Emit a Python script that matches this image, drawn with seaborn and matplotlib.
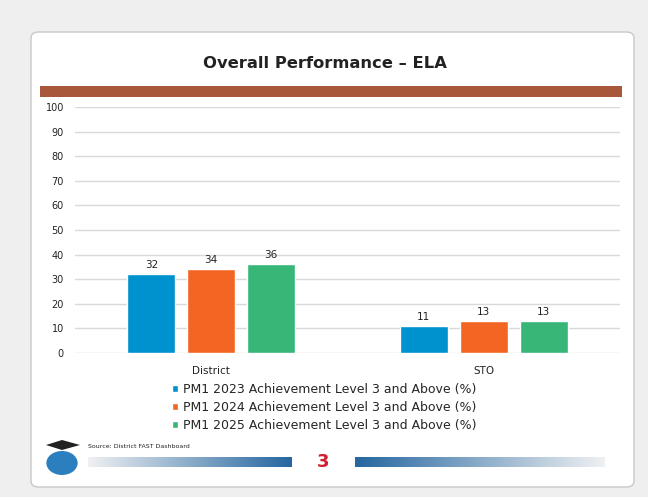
import numpy as np
import pandas as pd
import matplotlib
matplotlib.use('AGG')
import matplotlib.pyplot as plt
from matplotlib.patches import FancyBboxPatch, Rectangle, Circle, Polygon
import seaborn as sns

# data
groups = ['District', 'STO']
series = ['PM1 2023 Achievement Level 3 and Above (%)',
          'PM1 2024 Achievement Level 3 and Above (%)',
          'PM1 2025 Achievement Level 3 and Above (%)']
pm1_2023 = [32, 11]
pm1_2024 = [34, 13]
pm1_2025 = [36, 13]
yticks = list(range(0, 101, 10))
colors = ['#0092cf', '#f26522', '#37b677']

df = pd.DataFrame({
    'group': groups * 3,
    'series': [s for s in series for _ in groups],
    'value': pm1_2023 + pm1_2024 + pm1_2025,
})

sns.set_style('white')
plt.rcParams['font.family'] = ['DejaVu Sans']

W, H = 648, 497
fig = plt.figure(figsize=(W / 100, H / 100), dpi=100)
fig.patch.set_facecolor('#efefef')


def box(x0, y0, x1, y1):
    # pixel box (top-left origin) -> figure fraction rect
    return [x0 / W, 1 - y1 / H, (x1 - x0) / W, (y1 - y0) / H]


# white card with soft border (kept behind the axes)
card = FancyBboxPatch((31 / W, 1 - 487 / H), 603 / W, 455 / H,
                      boxstyle='round,pad=0,rounding_size=0.012',
                      transform=fig.transFigure, facecolor='white',
                      edgecolor='#c8c8c8', linewidth=1.0, zorder=-10)
fig.patches.append(card)

fig.text(325 / W, 1 - 63 / H, 'Overall Performance \u2013 ELA', ha='center', va='center',
         fontsize=11.8, fontweight='bold', color='#222222')
fig.patches.append(Rectangle((40 / W, 1 - 97 / H), 582 / W, 11 / H, zorder=-5,
                             transform=fig.transFigure, facecolor='#a9573a', edgecolor='none'))

ax = fig.add_axes(box(75, 107, 620, 353))
ax.set_facecolor('none')
sns.barplot(data=df, x='group', y='value', hue='series', palette=colors,
            width=0.66, gap=0.2, ax=ax, legend=True, saturation=1)
ax.set_xlim(-0.5, 1.5)
ax.set_ylim(0, 100)
ax.set_yticks(yticks)
ax.yaxis.grid(True, color='#d9d9d9', linewidth=1)
ax.set_axisbelow(True)
for s in ax.spines.values():
    s.set_visible(False)
ax.tick_params(axis='y', labelsize=7, length=0, pad=8, labelcolor='#222222')
ax.tick_params(axis='x', labelsize=7.5, length=0, pad=9, labelcolor='#222222')
ax.set_xlabel('')
ax.set_ylabel('')
for c in ax.containers:
    ax.bar_label(c, fontsize=7.5, padding=3, color='#222222')

handles, labels = ax.get_legend_handles_labels()
ax.legend(handles, labels, loc='upper left', bbox_to_anchor=(0.178, -0.122),
          frameon=False, fontsize=9.0, handlelength=0.5, handleheight=0.5,
          handletextpad=0.35, labelspacing=0.38, borderaxespad=0, borderpad=0)

# footer
fig.text(88 / W, 1 - 447 / H, 'Source: District FAST Dashboard', fontsize=4.5,
         ha='left', va='center', color='#222222')
fig.text(323 / W, 1 - 462 / H, '3', fontsize=13, fontweight='bold', color='#d0202f',
         ha='center', va='center')
grad = np.linspace(0, 1, 256).reshape(1, -1)
cmap = sns.light_palette('#2566a0', as_cmap=True)
gl = fig.add_axes(box(88, 457, 292, 467))
gl.imshow(grad, aspect='auto', cmap=cmap)
gl.axis('off')
gr = fig.add_axes(box(355, 457, 605, 467))
gr.imshow(grad[:, ::-1], aspect='auto', cmap=cmap)
gr.axis('off')

# logo stand-in: globe with a graduation cap
fig.patches.append(Circle((62 / W, 1 - 463 / H), 12 / H, transform=fig.transFigure,
                          facecolor='#2b7fbf', edgecolor='none'))
fig.patches.append(Polygon([(46 / W, 1 - 445 / H), (62 / W, 1 - 440 / H),
                            (80 / W, 1 - 445 / H), (62 / W, 1 - 450 / H)],
                           transform=fig.transFigure, facecolor='#222222', edgecolor='none'))

fig.savefig('out.png', dpi=100, facecolor=fig.get_facecolor())
